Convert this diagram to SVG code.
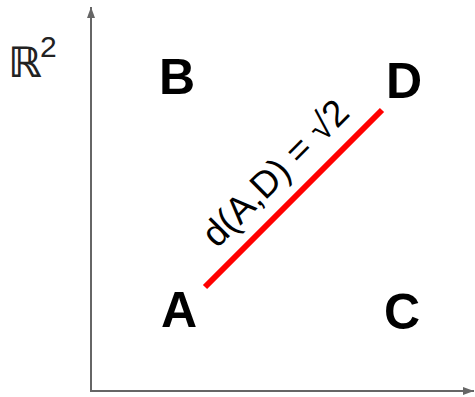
<svg xmlns="http://www.w3.org/2000/svg" width="475" height="397" viewBox="0 0 475 397">
<style>
.pt{font-family:"Liberation Sans",Arial,sans-serif;font-weight:bold;font-size:50px;fill:#000}
.ax{stroke:#666;stroke-width:2;fill:none}
</style>
<defs>
<marker id="ah" viewBox="0 0 11 8" refX="11" refY="4" markerWidth="11" markerHeight="8" orient="auto" markerUnits="userSpaceOnUse">
<path d="M0,0 L11,4 L0,8 z" fill="#666"/>
</marker>
</defs>
<rect width="475" height="397" fill="#fff"/>
<g id="connectors">
<line class="ax" x1="91" y1="391" x2="91" y2="7" marker-end="url(#ah)"/>
<line class="ax" x1="90" y1="391" x2="474" y2="391" marker-end="url(#ah)"/>
<line x1="205" y1="287" x2="382" y2="110" stroke="#f00" stroke-width="6"/>
<text transform="translate(217,249) rotate(-45)" font-family="'Liberation Sans',Arial,sans-serif" font-size="37" fill="#000">d(A,D) = √2</text>
</g>
<g id="label-R2"><text x="8" y="77" font-family="'DejaVu Sans',sans-serif" font-weight="bold" font-size="42" fill="#222">ℝ</text><text x="40" y="57" font-family="'Liberation Sans',Arial,sans-serif" font-size="30" fill="#222">2</text></g>
<g id="node-B"><text class="pt" x="159" y="94">B</text></g>
<g id="node-D"><text class="pt" x="386" y="98">D</text></g>
<g id="node-A"><text class="pt" x="161" y="327">A</text></g>
<g id="node-C"><text class="pt" x="384" y="329">C</text></g>
</svg>
